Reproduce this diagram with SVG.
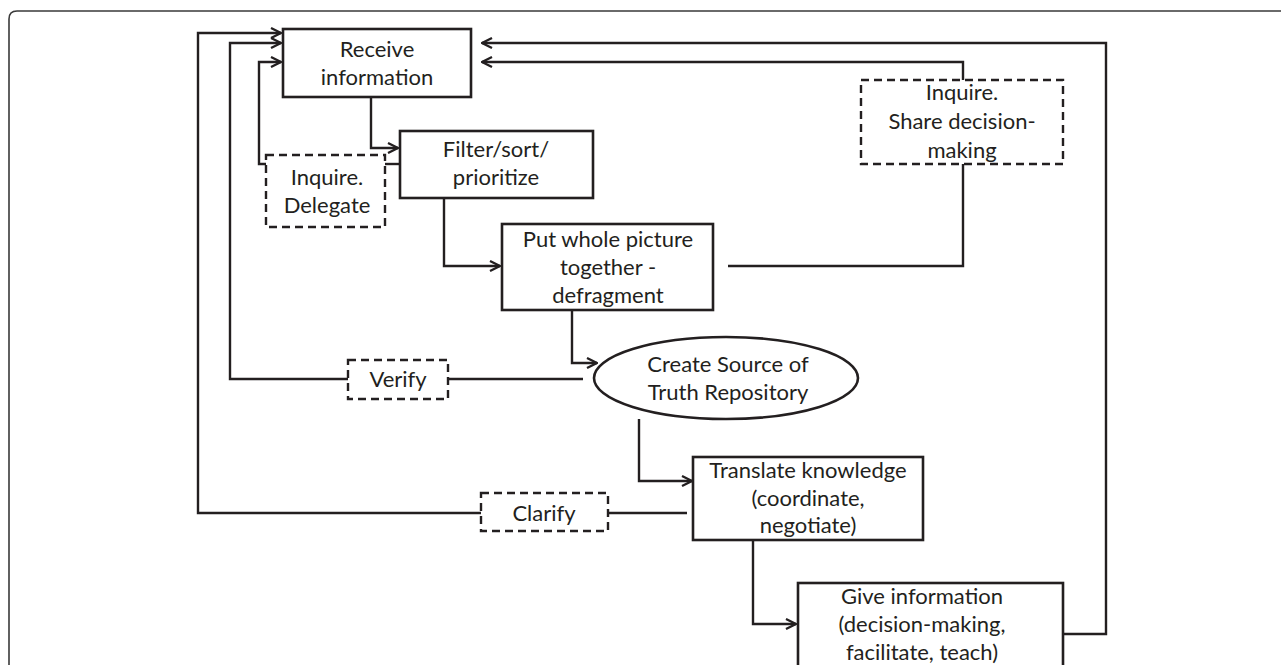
<svg xmlns="http://www.w3.org/2000/svg" width="1281" height="665" viewBox="0 0 1281 665">
<defs>
<marker id="arr" markerUnits="userSpaceOnUse" viewBox="0 0 12 12" refX="11" refY="6" markerWidth="12" markerHeight="12" orient="auto">
<path d="M1,1 L11,6 L1,11" fill="none" stroke="#231f20" stroke-width="2.3"/>
</marker>
<style>
.box{fill:#fff;stroke:#231f20;stroke-width:2.6}
.dash{fill:#fff;stroke:#231f20;stroke-width:2.4;stroke-dasharray:8 5}
.ln{fill:none;stroke:#231f20;stroke-width:2.4}
.arw{marker-end:url(#arr)}
text{font-family:"Lato","Liberation Sans",sans-serif;font-size:22px;fill:#231f20;text-anchor:middle}
</style>
</defs>
<rect width="1281" height="665" fill="#fff"/>
<path d="M9,665 V19 Q9,11 17,11 H1281" fill="none" stroke="#3a3a3a" stroke-width="1.6"/>
<g id="connectors">
<path class="ln arw" d="M371,97 V148 H398"/>
<path class="ln arw" d="M444,198 V266 H500"/>
<path class="ln arw" d="M572,310 V363 H597"/>
<path class="ln arw" d="M639,419 V481 H692"/>
<path class="ln arw" d="M753,540 V624 H796"/>
<path class="ln arw" d="M1063,634 H1106 V43 H482"/>
<path class="ln" d="M728,266 H963 V164"/>
<path class="ln arw" d="M963,80 V62 H482"/>
<path class="ln" d="M583,379 H448"/>
<path class="ln arw" d="M348,379 H230 V43 H281"/>
<path class="ln" d="M687,513 H608"/>
<path class="ln arw" d="M481,513 H198 V33 H281"/>
<path class="ln" d="M399,164 H385"/>
<path class="ln arw" d="M266,164 H259 V62 H281"/>
</g>
<g id="receive">
<rect class="box" x="283" y="29" width="188" height="68"/>
<text x="377" y="57">Receive</text>
<text x="377" y="85">information</text>
</g>
<g id="filter">
<rect class="box" x="400" y="131" width="193" height="67"/>
<text x="496" y="157">Filter/sort/</text>
<text x="496" y="185">prioritize</text>
</g>
<g id="put">
<rect class="box" x="502" y="224" width="211" height="86"/>
<text x="608" y="247">Put whole picture</text>
<text x="608" y="275">together -</text>
<text x="608" y="303">defragment</text>
</g>
<g id="delegate">
<rect class="dash" x="266" y="155" width="119" height="72"/>
<text x="327" y="185">Inquire.</text>
<text x="327" y="213">Delegate</text>
</g>
<g id="share">
<rect class="dash" x="861" y="80" width="202" height="84"/>
<text x="962" y="100">Inquire.</text>
<text x="962" y="129">Share decision-</text>
<text x="962" y="158">making</text>
</g>
<g id="source">
<ellipse class="box" cx="726" cy="378" rx="132" ry="41"/>
<text x="728" y="372">Create Source of</text>
<text x="728" y="400">Truth Repository</text>
</g>
<g id="verify">
<rect class="dash" x="348" y="360" width="100" height="39"/>
<text x="398" y="387">Verify</text>
</g>
<g id="translate">
<rect class="box" x="693" y="457" width="230" height="83"/>
<text x="808" y="478">Translate knowledge</text>
<text x="808" y="506">(coordinate,</text>
<text x="808" y="533">negotiate)</text>
</g>
<g id="clarify">
<rect class="dash" x="481" y="493" width="127" height="38"/>
<text x="544" y="521">Clarify</text>
</g>
<g id="give">
<rect class="box" x="798" y="583" width="265" height="90"/>
<text x="922" y="604">Give information</text>
<text x="922" y="632">(decision-making,</text>
<text x="922" y="660">facilitate, teach)</text>
</g>
</svg>
